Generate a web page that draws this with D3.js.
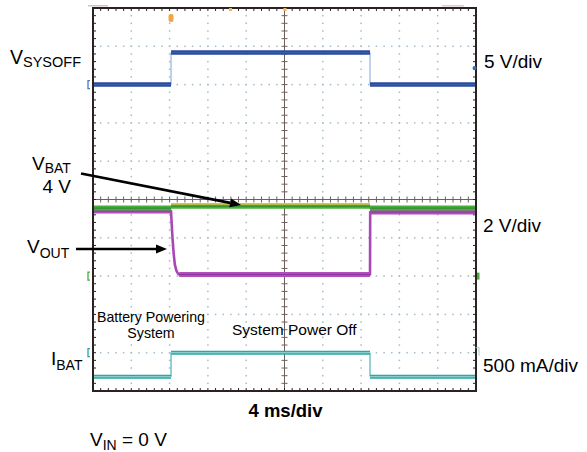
<!DOCTYPE html>
<html><head><meta charset="utf-8">
<script src="https://cdn.jsdelivr.net/npm/d3@7"></script>
<style>
html,body{margin:0;padding:0;background:#fff;}
svg text{font-family:"Liberation Sans",Arial,Helvetica,sans-serif;fill:#000;}
</style></head>
<body><svg id="c" width="587" height="452"></svg>
<script>
// ---- data (time in ms, values in channel units) ----
const switchTimes = [8.15, 28.93];
const vsysoffT = [0, 8.15, 28.93, 40];
const vsysoffV = [0, 4.2, 0, 0];               // V, 5 V/div
const vbatT = [0, 8.15, 28.93, 40];
const vbatV = [3.55, 3.65, 3.55, 3.55];         // V, 2 V/div
const vsysT = [8.15, 28.93];
const vsysV = [3.78, 3.78];                     // V, 2 V/div (yellow)
const voutT = [0, 8.15, 8.2, 8.3, 8.42, 8.55, 8.7, 8.85, 9.0, 28.93, 28.95, 40];
const voutV = [3.4, 3.4, 2.9, 2.0, 1.2, 0.6, 0.3, 0.15, 0.08, 0.08, 3.35, 3.35];
const ibatT = [0, 8.15, 28.93, 40];
const ibatV = [-0.313, 0, -0.313, -0.313];      // A, 500 mA/div
const channelOffsetDiv = {vsysoff: 8, v2: 3, ibat: 1};
const channelScale = {vsysoff: 5, v2: 2, ibat: 0.5};
const scaleLabels = ["5 V/div", "2 V/div", "500 mA/div"];
const timeLabel = "4 ms/div";

const svg = d3.select("#c");
const X0 = 93, X1 = 476, Y0 = 8, Y1 = 391;
const x = d3.scaleLinear().domain([0, 40]).range([X0, X1]);
const yDiv = d3.scaleLinear().domain([0, 10]).range([Y1, Y0]);
const xDiv = d3.scaleLinear().domain([0, 10]).range([X0, X1]);
const yCh = (ch, v) => yDiv(channelOffsetDiv[ch] + v / channelScale[ch]);

// ---- grid dots ----
const g = svg.append("g");
const minor = d3.range(0, 10.001, 0.2);
const dotCol = "#a3bccb";
[1,2,3,4,6,7,8,9].forEach(d => {
  g.selectAll(null).data(minor).enter().append("rect")
    .attr("x", xDiv(d) - 0.75).attr("y", v => yDiv(v) - 0.75)
    .attr("width", 1.5).attr("height", 1.5).attr("fill", dotCol);
  g.selectAll(null).data(minor).enter().append("rect")
    .attr("x", v => xDiv(v) - 0.75).attr("y", yDiv(d) - 0.75)
    .attr("width", 1.5).attr("height", 1.5).attr("fill", dotCol);
});
// center axes with ticks
const axCol = "#6e5f5d";
g.append("line").attr("x1", xDiv(5)).attr("x2", xDiv(5)).attr("y1", Y0).attr("y2", Y1)
  .attr("stroke", axCol).attr("stroke-width", 1);
g.append("line").attr("x1", X0).attr("x2", X1).attr("y1", yDiv(5)).attr("y2", yDiv(5))
  .attr("stroke", axCol).attr("stroke-width", 1);
g.selectAll(null).data(minor).enter().append("line")
  .attr("x1", xDiv(5) - 3).attr("x2", xDiv(5) + 3)
  .attr("y1", v => yDiv(v)).attr("y2", v => yDiv(v)).attr("stroke", axCol).attr("stroke-width", 1);
g.selectAll(null).data(minor).enter().append("line")
  .attr("y1", yDiv(5) - 3).attr("y2", yDiv(5) + 3)
  .attr("x1", v => xDiv(v)).attr("x2", v => xDiv(v)).attr("stroke", axCol).attr("stroke-width", 1);
// frame edge ticks
const frCol = "#2a2220";
g.selectAll(null).data(minor).enter().append("line")
  .attr("x1", v => xDiv(v)).attr("x2", v => xDiv(v)).attr("y1", Y0).attr("y2", Y0 + 3)
  .attr("stroke", frCol).attr("stroke-width", 1);
g.selectAll(null).data(minor).enter().append("line")
  .attr("x1", v => xDiv(v)).attr("x2", v => xDiv(v)).attr("y1", Y1).attr("y2", Y1 - 3)
  .attr("stroke", frCol).attr("stroke-width", 1);
g.selectAll(null).data(minor).enter().append("line")
  .attr("y1", v => yDiv(v)).attr("y2", v => yDiv(v)).attr("x1", X0).attr("x2", X0 + 3)
  .attr("stroke", frCol).attr("stroke-width", 1);
g.selectAll(null).data(minor).enter().append("line")
  .attr("y1", v => yDiv(v)).attr("y2", v => yDiv(v)).attr("x1", X1).attr("x2", X1 - 3)
  .attr("stroke", frCol).attr("stroke-width", 1);

// ---- traces: thin edges, thick flat segments ----
const pts = (T, V) => T.map((t, i) => [t, V[i]]);
function trace(ch, T, V, color, core, w, thinW, thinCol, step) {
  const line = d3.line().x(d => x(d[0])).y(d => yCh(ch, d[1]))
    .curve(step ? d3.curveStepAfter : d3.curveLinear);
  svg.append("path").attr("d", line(pts(T, V))).attr("fill", "none")
    .attr("stroke", thinCol).attr("stroke-width", thinW).attr("stroke-linejoin", "round");
  const segs = [];
  for (let i = 0; i < T.length - 1; i++) {
    if (step || V[i] === V[i + 1]) segs.push([[T[i], V[i]], [T[i + 1], V[i]]]);
  }
  const lin = d3.line().x(d => x(d[0])).y(d => yCh(ch, d[1]));
  segs.forEach(s => {
    svg.append("path").attr("d", lin(s)).attr("stroke", color).attr("stroke-width", w).attr("fill", "none");
    if (core) svg.append("path").attr("d", lin(s)).attr("stroke", core).attr("stroke-width", 1.1).attr("fill", "none");
  });
}
trace("v2", voutT, voutV, "#b24cba", "#8a36a0", 5, 2.6, "#a848b4", false);
trace("v2", vbatT, vbatV, "#48ae3c", "#2f8f2a", 5, 1.2, "#78c0a0", true);
trace("v2", vsysT, vsysV, "#e0bf4a", null, 1.4, 1.4, "#e0bf4a", false);
trace("vsysoff", vsysoffT, vsysoffV, "#2a4c9e", "#3a5aac", 4.5, 1, "#7da6d8", true);
trace("ibat", ibatT, ibatV, "#2aa6a6", "#a8dcd8", 4, 1, "#2aa6a6", true);

// frame
svg.append("rect").attr("x", X0).attr("y", Y0).attr("width", X1 - X0).attr("height", Y1 - Y0)
  .attr("fill", "none").attr("stroke", frCol).attr("stroke-width", 2);

// ---- channel markers ----
function bracket(xp, yp, col) {
  svg.append("path").attr("d", `M${xp+2},${yp-4} L${xp},${yp-4} L${xp},${yp+4} L${xp+2},${yp+4}`)
    .attr("fill", "none").attr("stroke", col).attr("stroke-width", 1.3);
}
bracket(88, yCh("vsysoff", 0), "#4a7ac0");
bracket(88, yCh("v2", 0), "#46ad3c");
bracket(88, yCh("ibat", 0), "#2aa6a6");
svg.append("rect").attr("x", 477).attr("y", yCh("v2", 0) - 3.5).attr("width", 2.5).attr("height", 7).attr("fill", "#46ad3c");
svg.append("path").attr("d", `M${X1-0.5},${yCh("ibat",0)-5} L${X1+3},${yCh("ibat",0)-5} L${X1+3},${yCh("ibat",0)+3}`)
  .attr("fill", "none").attr("stroke", "#9ccccc").attr("stroke-width", 1);
svg.append("circle").attr("cx", 474.5).attr("cy", 68).attr("r", 2).attr("fill", "#3a70c0");
svg.append("rect").attr("x", x(switchTimes[0]) - 2.5).attr("y", 14).attr("width", 5).attr("height", 8)
  .attr("rx", 2).attr("fill", "#f3a640");
svg.append("rect").attr("x", 229).attr("y", 8).attr("width", 3).attr("height", 3).attr("fill", "#f3b060");
svg.append("rect").attr("x", 283.5).attr("y", 8).attr("width", 3).attr("height", 3).attr("fill", "#f3b060");
svg.append("rect").attr("x", 88).attr("y", 5).attr("width", 20).attr("height", 1.5).attr("fill", "#c8c8c8");
svg.append("rect").attr("x", 442).attr("y", 5).attr("width", 22).attr("height", 1.5).attr("fill", "#d0d0d0");

// ---- text ----
function label(xp, yp, main, sub, size, subSize, dy) {
  const t = svg.append("text").attr("x", xp).attr("y", yp).attr("font-size", size);
  t.append("tspan").text(main);
  if (sub) t.append("tspan").attr("dy", dy).attr("font-size", subSize).text(sub);
  return t;
}
label(10, 63.5, "V", "SYSOFF", 19.5, 14.5, 3.5);
label(32, 169.5, "V", "BAT", 19, 14, 3.8);
svg.append("text").attr("x", 71).attr("y", 193.3).attr("font-size", 19).attr("text-anchor", "end").text("4 V");
label(27, 253, "V", "OUT", 19, 14, 5);
label(51, 365, "I", "BAT", 19, 14, 5);
label(90, 446, "V", "IN", 19, 14, 4);
svg.append("text").attr("x", 122).attr("y", 446).attr("font-size", 19).text("= 0 V");
svg.append("text").attr("x", 484).attr("y", 67.7).attr("font-size", 19).text(scaleLabels[0]);
svg.append("text").attr("x", 483).attr("y", 231.5).attr("font-size", 19).text(scaleLabels[1]);
svg.append("text").attr("x", 483).attr("y", 371.5).attr("font-size", 19).text(scaleLabels[2]);
svg.append("text").attr("x", 285.5).attr("y", 416.7).attr("font-size", 18.5).attr("font-weight", "bold")
  .attr("text-anchor", "middle").text(timeLabel);
svg.append("text").attr("x", 151).attr("y", 321.5).attr("font-size", 14.2).attr("text-anchor", "middle").text("Battery Powering");
svg.append("text").attr("x", 151).attr("y", 337.7).attr("font-size", 14.2).attr("text-anchor", "middle").text("System");
svg.append("text").attr("x", 232).attr("y", 335).attr("font-size", 15.5).text("System Power Off");

// ---- arrows ----
function arrow(x1, y1, x2, y2) {
  const a = Math.atan2(y2 - y1, x2 - x1), L = 11, W = 4.5;
  const bx = x2 - L * Math.cos(a), by = y2 - L * Math.sin(a);
  svg.append("line").attr("x1", x1).attr("y1", y1).attr("x2", bx).attr("y2", by)
    .attr("stroke", "#000").attr("stroke-width", 2.6);
  svg.append("path").attr("d",
    `M${x2},${y2} L${bx + W*Math.sin(a)},${by - W*Math.cos(a)} L${bx - W*Math.sin(a)},${by + W*Math.cos(a)} Z`)
    .attr("fill", "#000");
}
arrow(81, 173.5, 241, 205);
arrow(76, 249, 167, 249);
</script></body></html>
